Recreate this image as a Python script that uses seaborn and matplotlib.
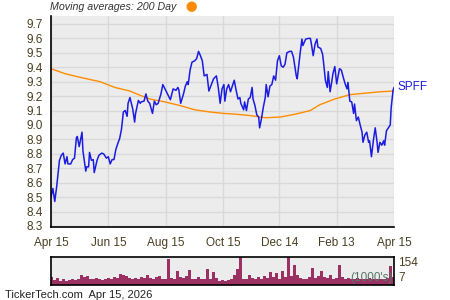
import numpy as np
import pandas as pd
import matplotlib
matplotlib.use("Agg")
import matplotlib.pyplot as plt
import matplotlib.patches as mpatches
import matplotlib.transforms as mtransforms
from matplotlib.ticker import MultipleLocator, FixedLocator
import seaborn as sns

# ---------------- data ----------------
start_date = "2025-04-15"
end_date = "2026-04-15"

price_day = [0, 2, 4, 6, 9, 11, 13, 15, 17, 18, 21, 23, 25, 27, 28, 30, 33, 34, 37, 38,
             40, 41, 43, 45, 46, 49, 51, 54, 56, 59, 61, 63, 65, 67, 69, 71, 73, 75, 77, 79,
             81, 82, 84, 87, 89, 90, 93, 95, 96, 99, 101, 103, 105, 108, 110, 112, 114, 117,
             119, 122, 124, 127, 130, 133, 135, 136, 138, 141, 143, 145, 146, 148, 150, 153,
             155, 157, 159, 161, 163, 166, 168, 171, 173, 176, 178, 180, 182, 184, 185, 187,
             189, 191, 193, 195, 197, 199, 201, 202, 205, 206, 208, 210, 212, 214, 215, 217,
             219, 221, 222, 224, 226, 228, 229, 231, 233, 235, 237, 239, 241, 243, 245, 247,
             249, 251, 254, 256, 258, 261, 262, 265, 267, 268, 271, 274, 276, 277, 279, 281,
             283, 284, 287, 289, 290, 292, 294, 295, 297, 299, 300, 302, 304, 306, 307, 309,
             311, 313, 315, 316, 318, 320, 322, 323, 325, 327, 329, 331, 332, 334, 336, 338,
             339, 341, 343, 345, 347, 348, 350, 352, 354, 355, 357, 359, 361, 362, 364, 365]
price = [8.50, 8.56, 8.47, 8.57, 8.755, 8.79, 8.805, 8.73, 8.78, 8.73, 8.73, 8.76, 8.77, 8.91,
         8.92, 8.85, 8.95, 8.82, 8.68, 8.71, 8.71, 8.81, 8.755, 8.76, 8.67, 8.755, 8.79, 8.805,
         8.80, 8.77, 8.78, 8.73, 8.76, 8.76, 8.83, 8.87, 8.905, 8.97, 9.09, 9.10, 9.06, 9.15,
         9.19, 9.11, 9.02, 9.08, 9.17, 9.15, 9.16, 9.165, 9.215, 9.165, 9.15, 9.08, 9.165, 9.14,
         9.15, 9.215, 9.28, 9.24, 9.215, 9.175, 9.25, 9.24, 9.26, 9.245, 9.15, 9.215, 9.27, 9.30,
         9.28, 9.38, 9.435, 9.445, 9.46, 9.51, 9.48, 9.445, 9.34, 9.35, 9.235, 9.285, 9.32, 9.34,
         9.26, 9.15, 9.25, 9.28, 9.165, 9.25, 9.28, 9.23, 9.27, 9.31, 9.24, 9.18, 9.19, 9.15,
         9.105, 9.16, 9.10, 9.18, 9.19, 9.26, 9.18, 9.135, 9.07, 9.055, 8.98, 9.045, 9.125, 9.19,
         9.28, 9.195, 9.27, 9.28, 9.34, 9.31, 9.445, 9.48, 9.41, 9.40, 9.42, 9.50, 9.51, 9.51,
         9.47, 9.34, 9.32, 9.49, 9.595, 9.55, 9.595, 9.60, 9.60, 9.565, 9.48, 9.56, 9.595, 9.54,
         9.53, 9.49, 9.435, 9.31, 9.26, 9.37, 9.23, 9.31, 9.355, 9.405, 9.285, 9.355, 9.39, 9.38,
         9.33, 9.285, 9.25, 9.295, 9.165, 9.16, 9.08, 9.145, 9.03, 9.055, 9.00, 8.95, 8.88, 8.93,
         8.95, 8.88, 8.89, 8.78, 8.89, 8.98, 8.88, 8.81, 8.88, 8.86, 8.89, 8.86, 8.96, 8.98,
         9.00, 9.12, 9.24, 9.26]

ma_day = [0, 15, 31, 52, 68, 84, 95, 105, 121, 137, 153, 169, 184, 196, 212, 228, 244,
          260, 276, 286, 302, 318, 334, 350, 365]
ma200 = [9.39, 9.355, 9.33, 9.30, 9.26, 9.235, 9.205, 9.18, 9.16, 9.135, 9.105, 9.09, 9.08,
         9.075, 9.065, 9.05, 9.055, 9.075, 9.10, 9.14, 9.18, 9.21, 9.22, 9.23, 9.235]

volume = [45, 25, 40, 20, 30, 20, 25, 30, 25, 35, 55, 45, 50, 35, 30, 40, 30, 25, 30, 40,
          30, 45, 40, 62, 55, 50, 40, 35, 40, 30, 45, 40, 55, 40, 35, 45, 50, 30, 30,
          140, 40, 30, 75, 45, 40, 50, 80, 35, 30, 45, 30, 35, 88, 35, 70, 40, 20, 25, 20,
          25, 35, 52, 84, 154, 35, 30, 55, 40, 30, 45, 35, 50, 40, 70, 45, 66, 35,
          75, 45, 154, 50, 110, 55, 40, 30, 35, 45, 90, 40, 50, 78, 45, 40, 55, 35, 40, 110,
          45, 35, 40, 30, 35, 40, 35, 30, 35, 40, 30, 35, 30, 35, 30, 40, 105, 45]

major_tick_dates = ["2025-04-15", "2025-06-15", "2025-08-15", "2025-10-15",
                    "2025-12-14", "2026-02-13", "2026-04-15"]
major_tick_labels = ["Apr 15", "Jun 15", "Aug 15", "Oct 15", "Dec 14", "Feb 13", "Apr 15"]
minor_tick_dates = ["2025-05-15", "2025-07-15", "2025-09-14", "2025-11-14",
                    "2026-01-13", "2026-03-15"]
price_ticks = [8.3, 8.4, 8.5, 8.6, 8.7, 8.8, 8.9, 9.0, 9.1, 9.2, 9.3, 9.4, 9.5, 9.6, 9.7]
volume_ticks = [7, 154]
ticker = "SPFF"

# ---------------- style ----------------
sns.set_style("white")
plt.rcParams["font.family"] = ["Liberation Sans", "DejaVu Sans"]

BG = "#ececec"
GRID = "#d9d9d9"
TXT = "#4a3d20"
BLUE = "#1c1ce0"
ORANGE = "#ff8c00"
VOL = "#9b3062"

W, H = 450, 300
fig = plt.figure(figsize=(4.5, 3.0), dpi=100)
ax = fig.add_axes([51 / W, 1 - 227 / H, 343 / W, 211 / H])
ax2 = fig.add_axes([51 / W, 1 - 285 / H, 343 / W, 28.5 / H])

start = pd.Timestamp(start_date)
end = pd.Timestamp(end_date)
df_p = pd.DataFrame({"date": start + pd.to_timedelta(price_day, unit="D"), "price": price})
df_m = pd.DataFrame({"date": start + pd.to_timedelta(ma_day, unit="D"), "ma": ma200})

ax.set_facecolor(BG)
sns.lineplot(data=df_m, x="date", y="ma", ax=ax, color=ORANGE, linewidth=1.0)
sns.lineplot(data=df_p, x="date", y="price", ax=ax, color=BLUE, linewidth=1.1)
ax.set_xlabel("")
ax.set_ylabel("")
ax.set_xlim(start, end)
ax.set_ylim(8.293, 9.755)

ax.xaxis.set_major_locator(FixedLocator(matplotlib.dates.date2num(pd.to_datetime(major_tick_dates))))
ax.xaxis.set_minor_locator(FixedLocator(matplotlib.dates.date2num(pd.to_datetime(minor_tick_dates))))
ax.set_xticklabels(major_tick_labels)
ax.set_yticks(price_ticks)
ax.set_yticklabels([f"{v:.1f}" for v in price_ticks])
ax.yaxis.set_minor_locator(MultipleLocator(0.05))

ax.grid(True, which="major", color=GRID, linewidth=1.0)
ax.set_axisbelow(True)
for s in ["top", "right"]:
    ax.spines[s].set_visible(False)
for s in ["left", "bottom"]:
    ax.spines[s].set_color("black")
    ax.spines[s].set_linewidth(1.2)
ax.tick_params(which="major", direction="in", length=4, width=1, color="black",
               labelsize=8.5, labelcolor=TXT, pad=6)
ax.tick_params(which="minor", direction="in", length=3, width=1, color="black")
ax.tick_params(axis="x", which="major", pad=7)

# ticker label at last value
trans = mtransforms.blended_transform_factory(ax.transAxes, ax.transData)
ax.text(1.0 + 3 / 343, price[-1], ticker, transform=trans, color=BLUE,
        fontsize=8.5, va="center", ha="left", clip_on=False)

# ---------------- volume ----------------
ax2.set_facecolor(BG)
vol_dates = pd.date_range(start, end, periods=len(volume))
bar_w = (end - start).days / (len(volume) - 1)
ax2.bar(vol_dates, volume, width=bar_w, color=VOL, linewidth=0)
ax2.set_xlim(start, end)
ax2.set_ylim(0, 154)
ax2.set_xticks([])
ax2.yaxis.tick_right()
ax2.set_yticks(volume_ticks)
ax2.set_yticklabels([str(v) for v in volume_ticks])
ax2.tick_params(axis="y", length=0, labelsize=8.5, labelcolor=TXT, pad=3)
labs = ax2.get_yticklabels()
labs[0].set_va("bottom")
labs[1].set_va("top")
for s in ax2.spines.values():
    s.set_color("black")
    s.set_linewidth(1.2)
ax2.text(0.995, 0.02, "(1000's)", transform=ax2.transAxes, ha="right", va="bottom",
         fontsize=8.5, color="#557766")

# ---------------- header / footer ----------------
fig.text(50 / W, 1 - 7.5 / H, "Moving averages: 200 Day", style="italic",
         fontsize=7.7, color="#333333", ha="left", va="center")
fig.add_artist(mpatches.Ellipse((191.7 / W, 1 - 6.7 / H), 9 / W, 9 / H,
                                transform=fig.transFigure, color=ORANGE))
fig.text(5 / W, 1 - 294.5 / H, "TickerTech.com  Apr 15, 2026", fontsize=8,
         color="#222222", ha="left", va="center")

fig.savefig("out.png", dpi=100)
